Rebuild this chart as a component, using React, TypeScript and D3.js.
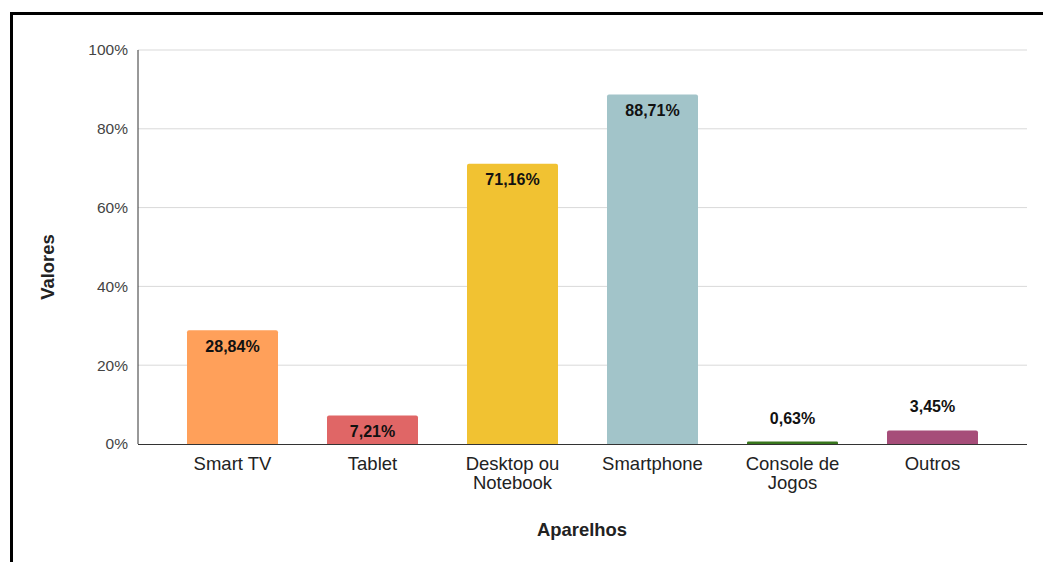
import React from "react";
import * as d3 from "d3";

const categories = ["Smart TV", "Tablet", "Desktop ou\nNotebook", "Smartphone", "Console de\nJogos", "Outros"];
const values = [28.84, 7.21, 71.16, 88.71, 0.63, 3.45];
const labels = ["28,84%", "7,21%", "71,16%", "88,71%", "0,63%", "3,45%"];
const colors = ["#FFA05A", "#E06666", "#F1C232", "#A2C4C9", "#38761D", "#A64D79"];
const yTicks = [0, 20, 40, 60, 80, 100];

const W = 1043, H = 562;
const left = 138, right = 1027, top = 50, bottom = 444;
const font = "'Liberation Sans', Arial, sans-serif";

export default function App() {
  const x = d3.scaleBand<string>().domain(categories).range([left, right]).paddingInner(0.35).paddingOuter(0.35);
  const y = d3.scaleLinear().domain([0, 100]).range([bottom, top]);
  const r = 2;
  return (
    <svg width={W} height={H} style={{ position: "absolute", left: 0, top: 0, background: "#fff" }}>
      <rect x={0} y={0} width={W} height={H} fill="#fff" />
      <path d={`M11.5,${H + 5} V13.5 H${W + 5}`} fill="none" stroke="#000" strokeWidth={3} />
      {yTicks.map((t) => (
        <g key={t}>
          {t > 0 && <line x1={left} x2={right} y1={y(t)} y2={y(t)} stroke="#d9d9d9" strokeWidth={1} />}
          <text x={128} y={y(t)} dy="0.35em" textAnchor="end" fontFamily={font} fontSize={15.5} fill="#444">{t}%</text>
        </g>
      ))}
      {categories.map((c, i) => {
        const x0 = x(c)!;
        const w = x.bandwidth();
        const y0 = y(values[i]);
        const h = bottom - y0;
        const rr = Math.min(r, h / 2);
        const d = `M${x0},${bottom} V${y0 + rr} Q${x0},${y0} ${x0 + rr},${y0} H${x0 + w - rr} Q${x0 + w},${y0} ${x0 + w},${y0 + rr} V${bottom} Z`;
        const inside = h > 22;
        const ly = inside ? y0 + 16 : y0 - 23.6;
        return (
          <g key={c}>
            <path d={d} fill={colors[i]} />
            <text x={x0 + w / 2} y={ly} dy="0.35em" textAnchor="middle" fontFamily={font} fontSize={16} fontWeight="bold" fill="#111">{labels[i]}</text>
            {c.split("\n").map((ln, j) => (
              <text key={j} x={x0 + w / 2} y={463.5 + j * 19.5} dy="0.35em" textAnchor="middle" fontFamily={font} fontSize={18.5} fill="#222">{ln}</text>
            ))}
          </g>
        );
      })}
      <line x1={left} x2={left} y1={top} y2={bottom} stroke="#333" strokeWidth={1} />
      <line x1={left} x2={right} y1={bottom + 0.5} y2={bottom + 0.5} stroke="#333" strokeWidth={1} />
      <text x={582} y={530} dy="0.35em" textAnchor="middle" fontFamily={font} fontSize={18.4} fontWeight="bold" fill="#222">Aparelhos</text>
      <text transform={`translate(48,267) rotate(-90)`} dy="0.35em" textAnchor="middle" fontFamily={font} fontSize={18.4} fontWeight="bold" fill="#222">Valores</text>
    </svg>
  );
}
